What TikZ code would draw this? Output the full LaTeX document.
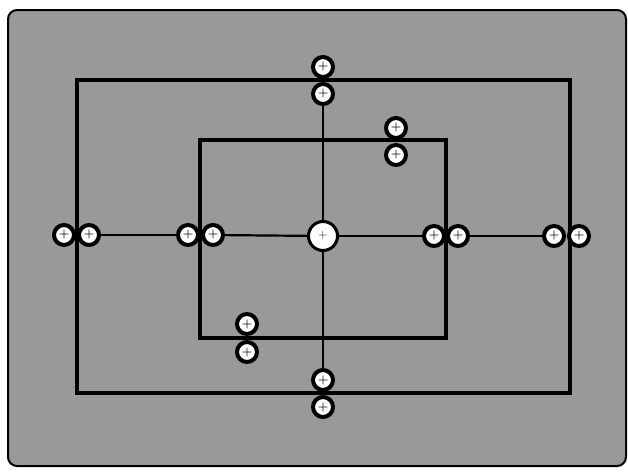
\documentclass[tikz,border=0pt]{standalone}
\usepackage{xcolor}
\usepackage{tikz}
\usetikzlibrary{positioning}

\begin{document}
\begin{tikzpicture}[
    x=1pt, y=-1pt,
    frame/.style={draw, line width=2pt, rounded corners=9pt, fill=black!40},
    panel/.style={draw, line width=3.4pt},
    handle/.style={draw, circle, fill=white, line width=4pt, minimum size=20pt, inner sep=0pt, font=\large\bfseries},
    hub/.style={draw, circle, fill=white, line width=3pt, minimum size=29pt, inner sep=0pt, font=\large},
    wire/.style={line width=2.2pt}
]
    \useasboundingbox (0,0) rectangle (628,471);

    % outer frame
    \draw[frame] (8,10) rectangle (626,466);

    % big and small panels
    \draw[panel] (77,80) rectangle (570,393);
    \draw[panel] (200,140) rectangle (446,338);

    % centre
    \node[hub] (hub) at (323,236) {+};

    % handles of the big panel
    \node[handle] (top1) at (323,67) {+};
    \node[handle] (top2) at (323,94) {+};
    \node[handle] (bot1) at (323,380) {+};
    \node[handle] (bot2) at (323,407) {+};
    \node[handle] (left1) at (64,235) {+};
    \node[handle] (left2) at (89,235) {+};
    \node[handle] (right1) at (554,236) {+};
    \node[handle] (right2) at (579,236) {+};

    % handles of the small panel
    \node[handle] (itop1) at (396,128) {+};
    \node[handle] (itop2) at (396,155) {+};
    \node[handle] (ibot1) at (247,324) {+};
    \node[handle] (ibot2) at (247,352) {+};
    \node[handle] (ileft1) at (188,235) {+};
    \node[handle] (ileft2) at (213,235) {+};
    \node[handle] (iright1) at (434,236) {+};
    \node[handle] (iright2) at (458,236) {+};

    % wires
    \draw[wire] (top2) -- (hub);
    \draw[wire] (hub) -- (bot1);
    \draw[wire] (left2) -- (ileft1);
    \draw[wire] (ileft2) -- (hub);
    \draw[wire] (hub) -- (iright1);
    \draw[wire] (iright2) -- (right1);

\end{tikzpicture}
\end{document}
